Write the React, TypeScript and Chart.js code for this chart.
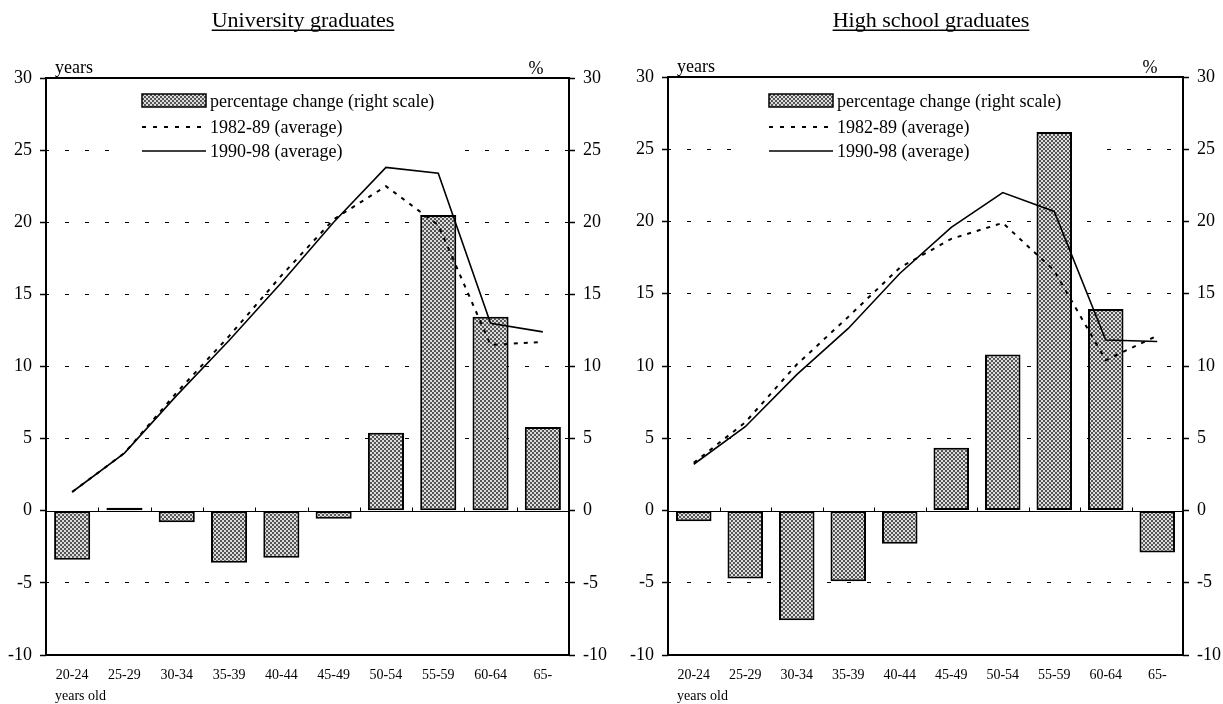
import { useEffect, useRef } from "react"
import { Chart, registerables } from "chart.js"

Chart.register(...registerables)

const SERIF = '"Liberation Serif", "Times New Roman", serif'
Chart.defaults.font.family = SERIF
Chart.defaults.color = "#000"

// age groups on the category axis
const ageGroups = ["20-24", "25-29", "30-34", "35-39", "40-44", "45-49", "50-54", "55-59", "60-64", "65-"]

// University graduates
const uniChange = [-3.4, 0.2, -0.8, -3.6, -3.25, -0.55, 5.4, 20.5, 13.45, 5.8]
const uni8289 = [1.3, 4.0, 8.2, 12.1, 16.3, 20.2, 22.5, 19.8, 11.5, 11.7]
const uni9098 = [1.3, 4.0, 8.0, 11.8, 15.8, 20.0, 23.8, 23.4, 13.0, 12.4]

// High school graduates
const hsChange = [-0.75, -4.7, -7.6, -4.9, -2.3, 4.35, 10.8, 26.2, 13.95, -2.9]
const hs8289 = [3.3, 6.1, 10.1, 13.4, 16.8, 18.8, 19.9, 16.6, 10.4, 12.1]
const hs9098 = [3.2, 5.8, 9.4, 12.6, 16.4, 19.6, 22.0, 20.7, 11.8, 11.7]

const legendLabels = ["percentage change (right scale)", "1982-89 (average)", "1990-98 (average)"]
const gridValues = [-5, 5, 10, 15, 20, 25]

const W = 612
const H = 704

interface PanelProps {
  title: string
  change: number[]
  avg8289: number[]
  avg9098: number[]
  left: number
  right: number
  top: number
  bottom: number
  titleX: number
  legendX: number
  offsetX: number
}

function makePattern(ctx: CanvasRenderingContext2D): CanvasPattern | string {
  const c = document.createElement("canvas")
  c.width = 4
  c.height = 4
  const g = c.getContext("2d")
  if (!g) return "#999"
  g.fillStyle = "#dcdcdc"
  g.fillRect(0, 0, 4, 4)
  g.fillStyle = "#555"
  g.fillRect(0, 0, 2, 2)
  g.fillRect(2, 2, 2, 2)
  return ctx.createPattern(c, "repeat") || "#999"
}

function ChartPanel(p: PanelProps) {
  const canvasRef = useRef<HTMLCanvasElement>(null)
  const chartInstance = useRef<Chart | null>(null)

  useEffect(() => {
    if (!canvasRef.current) return
    const ctx = canvasRef.current.getContext("2d")
    if (!ctx) return
    const pattern = makePattern(ctx)

    const decor = {
      id: "decor",
      beforeDatasetsDraw(chart: any) {
        const c = chart.ctx as CanvasRenderingContext2D
        const a = chart.chartArea
        const y0 = Math.round(chart.scales.y.getPixelForValue(0)) + 0.5
        c.save()
        // legend background
        c.fillStyle = "#fff"
        c.fillRect(p.legendX - 30, 85, 352, 77)
        // zero line with category ticks
        c.strokeStyle = "#000"
        c.lineWidth = 1
        c.beginPath()
        c.moveTo(a.left, y0)
        c.lineTo(a.right, y0)
        const step = (a.right - a.left) / ageGroups.length
        for (let i = 1; i < ageGroups.length; i++) {
          const x = Math.round(a.left + step * i) + 0.5
          c.moveTo(x, y0)
          c.lineTo(x, y0 - 4)
        }
        c.stroke()
        c.restore()
      },
      afterDatasetsDraw(chart: any) {
        const c = chart.ctx as CanvasRenderingContext2D
        const a = chart.chartArea
        c.save()
        // plot frame
        c.strokeStyle = "#000"
        c.lineWidth = 2
        c.strokeRect(a.left, a.top, a.right - a.left, a.bottom - a.top)

        c.fillStyle = "#000"
        c.textBaseline = "alphabetic"

        // title, underlined
        c.font = `22px ${SERIF}`
        c.textAlign = "center"
        c.fillText(p.title, p.titleX, 27)
        const tw = c.measureText(p.title).width
        c.fillRect(p.titleX - tw / 2, 29.5, tw, 1.5)

        // axis unit labels
        c.font = `18px ${SERIF}`
        c.textAlign = "left"
        c.fillText("years", a.left + 9, a.top - 5)
        c.textAlign = "center"
        c.fillText("%", a.right - 33, a.top - 4)
        c.font = `14px ${SERIF}`
        c.textAlign = "left"
        c.fillText("years old", a.left + 9, 700)

        // legend
        const lx = p.legendX
        c.fillStyle = pattern as any
        c.fillRect(lx, 94, 64, 13)
        c.lineWidth = 1.5
        c.strokeRect(lx, 94, 64, 13)

        c.lineWidth = 2
        c.setLineDash([4, 7])
        c.beginPath()
        c.moveTo(lx, 127)
        c.lineTo(lx + 64, 127)
        c.stroke()

        c.setLineDash([])
        c.lineWidth = 1.6
        c.beginPath()
        c.moveTo(lx, 151)
        c.lineTo(lx + 64, 151)
        c.stroke()

        c.fillStyle = "#000"
        c.font = `18px ${SERIF}`
        c.textAlign = "left"
        c.fillText(legendLabels[0], lx + 68, 106.5)
        c.fillText(legendLabels[1], lx + 68, 133)
        c.fillText(legendLabels[2], lx + 68, 156.5)
        c.restore()
      },
    }

    chartInstance.current = new Chart(ctx, {
      type: "bar",
      data: {
        labels: ageGroups,
        datasets: [
          {
            type: "line",
            label: legendLabels[2],
            data: p.avg9098,
            yAxisID: "y",
            borderColor: "#000",
            borderWidth: 1.6,
            pointRadius: 0,
            tension: 0,
            order: 1,
          },
          {
            type: "line",
            label: legendLabels[1],
            data: p.avg8289,
            yAxisID: "y",
            borderColor: "#000",
            borderWidth: 2,
            borderDash: [4, 6],
            pointRadius: 0,
            tension: 0,
            order: 2,
          },
          {
            type: "bar",
            label: legendLabels[0],
            data: p.change,
            yAxisID: "y1",
            backgroundColor: pattern as any,
            borderColor: "#000",
            borderWidth: 2,
            borderSkipped: false,
            barPercentage: 0.69,
            categoryPercentage: 1,
            order: 3,
          },
        ],
      },
      options: {
        responsive: false,
        animation: false,
        events: [],
        layout: { padding: { top: p.top, bottom: 0, left: 0, right: 0 } },
        plugins: {
          legend: { display: false },
          tooltip: { enabled: false },
        },
        scales: {
          x: {
            grid: { display: false, drawTicks: false },
            border: { display: false },
            ticks: { font: { size: 14 }, padding: 12, autoSkip: false, maxRotation: 0 },
            afterFit: (scale: any) => {
              scale.height = H - p.bottom
            },
          },
          y: {
            position: "left",
            min: -10,
            max: 30,
            ticks: { stepSize: 5, font: { size: 18 }, padding: 8 },
            grid: {
              color: (c: any) =>
                c.tick && gridValues.includes(c.tick.value) ? "#000" : "rgba(0,0,0,0)",
              lineWidth: 1,
              drawTicks: true,
              tickLength: 6,
              tickColor: "#000",
              tickWidth: 1.5,
              tickBorderDash: [],
            },
            border: { display: false, dash: [4, 16], dashOffset: 1 },
            afterFit: (scale: any) => {
              scale.width = p.left
            },
          },
          y1: {
            position: "right",
            min: -10,
            max: 30,
            ticks: { stepSize: 5, font: { size: 18 }, padding: 8 },
            grid: {
              drawOnChartArea: false,
              drawTicks: true,
              tickLength: 6,
              tickColor: "#000",
              tickWidth: 1.5,
            },
            border: { display: false },
            afterFit: (scale: any) => {
              scale.width = W - p.right
            },
          },
        },
      },
      plugins: [decor],
    } as any)

    return () => {
      if (chartInstance.current) {
        chartInstance.current.destroy()
        chartInstance.current = null
      }
    }
  }, [p])

  return (
    <div style={{ position: "absolute", left: p.offsetX, top: 0, width: W, height: H }}>
      <canvas ref={canvasRef} width={W} height={H} aria-label={p.title}></canvas>
    </div>
  )
}

const uniPanel: PanelProps = {
  title: "University graduates",
  change: uniChange,
  avg8289: uni8289,
  avg9098: uni9098,
  left: 46,
  right: 569,
  top: 78,
  bottom: 655,
  titleX: 303,
  legendX: 142,
  offsetX: 0,
}

const hsPanel: PanelProps = {
  title: "High school graduates",
  change: hsChange,
  avg8289: hs8289,
  avg9098: hs9098,
  left: 57,
  right: 572,
  top: 77,
  bottom: 655,
  titleX: 320,
  legendX: 158,
  offsetX: 611,
}

export default function App() {
  return (
    <div style={{ position: "absolute", left: 0, top: 0, width: 1223, height: 704, background: "#fff" }}>
      <ChartPanel {...uniPanel} />
      <ChartPanel {...hsPanel} />
    </div>
  )
}
